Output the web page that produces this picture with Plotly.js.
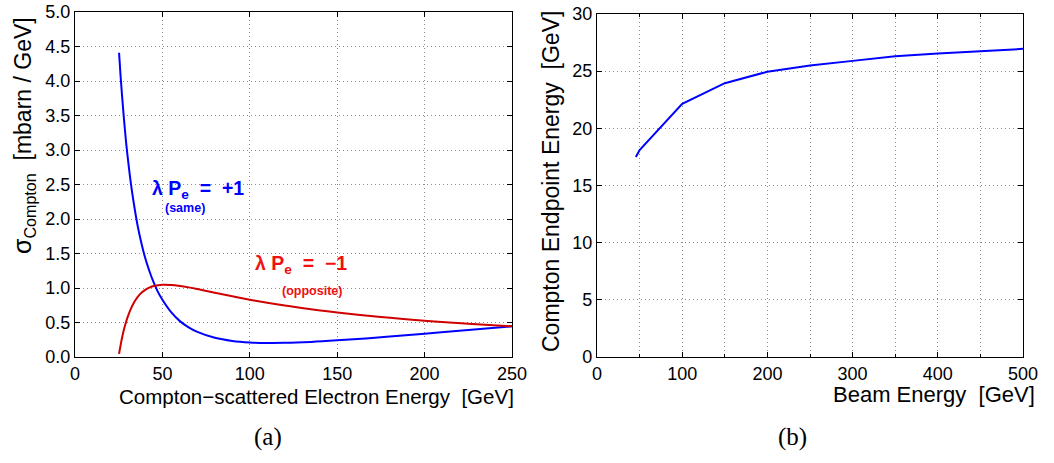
<!DOCTYPE html>
<html>
<head>
<meta charset="utf-8">
<script src="https://cdn.plot.ly/plotly-3.0.1.min.js"></script>
<style>
  html, body { margin: 0; padding: 0; background: #ffffff; }
  #chart { width: 1054px; height: 463px; }
</style>
</head>
<body>
<div id="chart"></div>
<script>
// (a) Compton cross-section vs scattered electron energy, 250 GeV beam
const scatEnergy = [25.2, 25.6, 26, 27, 28, 29, 30, 32, 34, 36, 38, 40, 42.5, 45, 47.5, 50, 55, 60, 65, 70, 80, 90, 100, 110, 120, 135, 150, 175, 200, 225, 250];
const sameSigma  = [4.41, 4.26, 4.1, 3.76, 3.45, 3.17, 2.93, 2.51, 2.17, 1.88, 1.65, 1.45, 1.25, 1.08, 0.94, 0.83, 0.65, 0.52, 0.43, 0.364, 0.278, 0.233, 0.211, 0.203, 0.205, 0.219, 0.241, 0.286, 0.337, 0.391, 0.445];
const oppSigma   = [0.045, 0.105, 0.16, 0.29, 0.4, 0.49, 0.57, 0.7, 0.8, 0.876, 0.93, 0.97, 1.006, 1.028, 1.041, 1.047, 1.044, 1.03, 1.009, 0.984, 0.932, 0.88, 0.831, 0.786, 0.745, 0.692, 0.645, 0.579, 0.526, 0.482, 0.445];

const sigmaTicks = [0, 0.5, 1, 1.5, 2, 2.5, 3, 3.5, 4, 4.5, 5];
const sigmaTickText = ['0.0', '0.5', '1.0', '1.5', '2.0', '2.5', '3.0', '3.5', '4.0', '4.5', '5.0'];

// (b) Compton endpoint energy vs beam energy
const beamEnergy     = [45.6, 50, 100, 150, 200, 250, 300, 350, 400, 450, 500];
const endpointEnergy = [17.5, 18.1, 22.15, 23.95, 24.95, 25.5, 25.9, 26.3, 26.55, 26.75, 26.95];

const W = 1054, H = 463;
const fx = p => p / W;
const fy = p => 1 - p / H;

const BLUE = '#0000ff';
const RED = '#d00000';
const TEXT_RED = '#f01010';
const FONT = 'Liberation Sans, Arial, Helvetica, sans-serif';
const GRID = '#8c8c8c';
const GRID_DASH = '1px,3px';

const traces = [
  { x: scatEnergy, y: sameSigma, xaxis: 'x', yaxis: 'y', mode: 'lines',
    line: { color: BLUE, width: 2, shape: 'spline', smoothing: 1 }, hoverinfo: 'skip' },
  { x: scatEnergy, y: oppSigma, xaxis: 'x', yaxis: 'y', mode: 'lines',
    line: { color: RED, width: 2, shape: 'spline', smoothing: 1 }, hoverinfo: 'skip' },
  { x: beamEnergy, y: endpointEnergy, xaxis: 'x2', yaxis: 'y2', mode: 'lines',
    line: { color: BLUE, width: 2 }, hoverinfo: 'skip' }
];

const axisBase = {
  showline: true, linecolor: '#000', linewidth: 1.2, mirror: 'ticks',
  ticks: 'inside', ticklen: 5, tickcolor: '#000', tickwidth: 1,
  showgrid: true, gridcolor: GRID, gridwidth: 1, griddash: GRID_DASH,
  zeroline: false, tickfont: { family: FONT, size: 18, color: '#000' },
  fixedrange: true
};

const layout = {
  width: W, height: H,
  margin: { l: 0, r: 0, t: 0, b: 0 },
  paper_bgcolor: '#ffffff', plot_bgcolor: '#ffffff',
  showlegend: false,
  xaxis: Object.assign({}, axisBase, {
    domain: [fx(75), fx(512)], range: [0, 250], anchor: 'y',
    tickmode: 'linear', tick0: 0, dtick: 50
  }),
  yaxis: Object.assign({}, axisBase, {
    domain: [fy(357), fy(12)], range: [0, 5], anchor: 'x',
    tickmode: 'array', tickvals: sigmaTicks, ticktext: sigmaTickText
  }),
  xaxis2: Object.assign({}, axisBase, {
    domain: [fx(597), fx(1023)], range: [0, 500], anchor: 'y2',
    tickmode: 'linear', tick0: 0, dtick: 100,
    minor: { dtick: 50, showgrid: true, gridcolor: GRID, gridwidth: 1, griddash: GRID_DASH,
             ticks: 'inside', ticklen: 3, tickcolor: '#000' }
  }),
  yaxis2: Object.assign({}, axisBase, {
    domain: [fy(357), fy(14)], range: [0, 30], anchor: 'x2',
    tickmode: 'linear', tick0: 0, dtick: 5
  }),
  annotations: [
    // curve labels, panel (a)
    { xref: 'x', yref: 'y', x: 42.9, y: 2.43, xanchor: 'left', yanchor: 'middle', showarrow: false,
      text: '<b>λ P<sub>e</sub>\u00a0\u00a0=\u00a0\u00a0+1</b>', font: { family: FONT, size: 19.5, color: BLUE } },
    { xref: 'x', yref: 'y', x: 50.3, y: 2.16, xanchor: 'left', yanchor: 'middle', showarrow: false,
      text: '<b>(same)</b>', font: { family: FONT, size: 12.5, color: BLUE } },
    { xref: 'x', yref: 'y', x: 101.8, y: 1.34, xanchor: 'left', yanchor: 'middle', showarrow: false,
      text: '<b>λ P<sub>e</sub>\u00a0\u00a0=\u00a0\u00a0−1</b>', font: { family: FONT, size: 19.5, color: TEXT_RED } },
    { xref: 'x', yref: 'y', x: 117.3, y: 0.95, xanchor: 'left', yanchor: 'middle', showarrow: false,
      text: '<b>(opposite)</b>', font: { family: FONT, size: 12.5, color: TEXT_RED } },

    // axis titles
    { xref: 'paper', yref: 'paper', x: fx(316.5), y: fy(396), xanchor: 'center', yanchor: 'middle', showarrow: false,
      text: 'Compton−scattered Electron Energy\u00a0\u00a0[GeV]', font: { family: FONT, size: 20.5, color: '#000' } },
    { xref: 'paper', yref: 'paper', x: fx(933.5), y: fy(394), xanchor: 'center', yanchor: 'middle', showarrow: false,
      text: 'Beam Energy\u00a0\u00a0[GeV]', font: { family: FONT, size: 22, color: '#000' } },
    { xref: 'paper', yref: 'paper', x: fx(24), y: fy(136), xanchor: 'center', yanchor: 'middle', showarrow: false,
      textangle: -90,
      text: '<span style="font-size:25px">σ</span><sub>Compton</sub>\u00a0\u00a0[mbarn / GeV]', font: { family: FONT, size: 23, color: '#000' } },
    { xref: 'paper', yref: 'paper', x: fx(551), y: fy(182), xanchor: 'center', yanchor: 'middle', showarrow: false,
      textangle: -90,
      text: 'Compton Endpoint Energy\u00a0\u00a0[GeV]', font: { family: FONT, size: 23, color: '#000' } },

    // panel captions
    { xref: 'paper', yref: 'paper', x: fx(268), y: fy(437), xanchor: 'center', yanchor: 'middle', showarrow: false,
      text: '(a)', font: { family: 'Liberation Serif, DejaVu Serif, serif', size: 25, color: '#000' } },
    { xref: 'paper', yref: 'paper', x: fx(792), y: fy(437), xanchor: 'center', yanchor: 'middle', showarrow: false,
      text: '(b)', font: { family: 'Liberation Serif, DejaVu Serif, serif', size: 25, color: '#000' } }
  ]
};

Plotly.newPlot('chart', traces, layout, { displayModeBar: false, staticPlot: true });
</script>
</body>
</html>
